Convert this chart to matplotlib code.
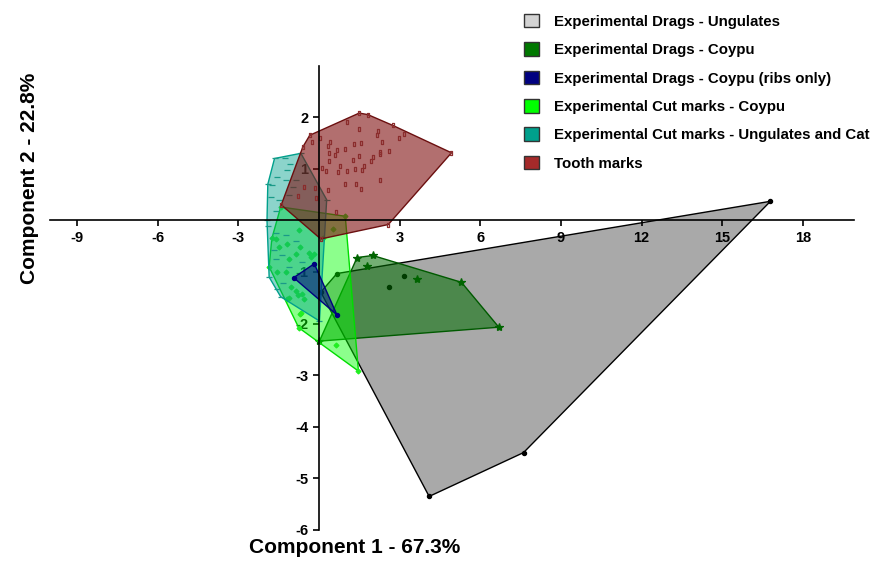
import numpy as np
import matplotlib.pyplot as plt
from matplotlib.patches import Polygon, Patch

plt.rcParams['font.family'] = ['Liberation Sans', 'DejaVu Sans']
plt.rcParams['font.weight'] = 'bold'
plt.rcParams['axes.unicode_minus'] = False

# PCA scores, one pair of arrays per group
drag_ung_x = [0.67, 16.79, 7.61, 4.10, 0.07, 3.16, 2.59]
drag_ung_y = [-1.03, 0.37, -4.50, -5.35, -1.39, -1.07, -1.30]

drag_coy_x = [1.42, 2.00, 5.30, 6.69, 0.02, 1.77, 3.64]
drag_coy_y = [-0.72, -0.68, -1.20, -2.07, -2.34, -0.89, -1.14]

ribs_x = [-0.94, -0.17, 0.67]
ribs_y = [-1.11, -0.84, -1.83]

cut_coy_x = [-1.42, 0.98, 1.47, -0.75, -1.85, -1.75,
             -1.58, -1.17, -1.48, -0.73, 0.14, 0.53, -1.11, -0.86, -0.38, -0.17,
             -1.54, -1.23, -1.04, -0.79, -0.61, -1.11, -0.55, -0.71, 0.63, -0.30,
             -0.67, -0.86, -1.17, -0.70]
cut_coy_y = [0.26, 0.08, -2.92, -2.08, -0.90, -0.35,
             -0.36, -0.45, -0.52, -0.19, -0.34, -0.16, -0.74, -0.65, -0.63, -0.66,
             -1.00, -1.00, -1.29, -1.45, -1.42, -1.50, -1.52, -1.81, -2.42, -0.71,
             -1.80, -1.37, -1.52, -0.52]

cut_ung_x = [-1.65, -0.67, 0.29, 0.02, -1.42, -1.85, -1.93, -1.90,
             -1.26, -1.07, -1.17, -1.54, -1.23, -0.98, -1.73, -1.48, -1.79, -1.11,
             -0.86, -1.60, -1.91, -1.60, -1.23, -1.67, -1.38, -1.11, -1.60, -0.61,
             -1.35, -1.54, -0.86]
cut_ung_y = [1.20, 1.30, 0.40, -1.95, -1.48, -1.10, 0.00, 0.70,
             1.21, 1.10, 0.98, 0.85, 0.78, 0.65, 0.68, 0.39, 0.45, 0.50,
             0.78, 0.19, -0.10, -0.25, -0.29, -0.58, -0.68, -0.90, -0.74, -0.81,
             -1.21, -1.32, -0.39]

tooth_x = [-0.60, -0.34, 1.50, 1.82, 2.75, 4.93, 2.58, 0.07, -1.40,
           1.04, 1.48, 2.21, 2.15, 3.18, 2.96, 0.05, -0.24, 0.32, 0.41, 1.32,
           1.58, 2.34, 0.98, 0.66, 0.38, 0.59, 2.28, 2.60, 1.50, 1.26, 2.03,
           2.29, 1.95, 0.36, 0.79, 1.67, 0.11, 0.26, 0.71, 1.04, 1.33, 1.60,
           2.29, 0.98, 1.38, 1.57, 0.32, 0.63, -0.55, -0.79, -0.14, -0.11]
tooth_y = [1.42, 1.65, 2.08, 2.05, 1.84, 1.31, -0.08, -0.36, 0.30,
           1.90, 1.78, 1.73, 1.65, 1.68, 1.60, 1.60, 1.52, 1.45, 1.52, 1.49,
           1.50, 1.52, 1.39, 1.36, 1.30, 1.27, 1.32, 1.34, 1.24, 1.18, 1.23,
           1.28, 1.16, 1.15, 1.06, 1.06, 1.02, 0.96, 0.94, 0.96, 0.99, 0.97,
           0.78, 0.70, 0.71, 0.61, 0.59, 0.16, 0.65, 0.48, 0.63, 0.44]

labels = ['Experimental Drags - Ungulates', 'Experimental Drags - Coypu',
          'Experimental Drags - Coypu (ribs only)', 'Experimental Cut marks - Coypu',
          'Experimental Cut marks - Ungulates and Cat', 'Tooth marks']


def hull(x, y):
    pts = sorted(set(zip(x, y)))

    def cross(o, a, b):
        return (a[0] - o[0]) * (b[1] - o[1]) - (a[1] - o[1]) * (b[0] - o[0])
    lower, upper = [], []
    for p in pts:
        while len(lower) >= 2 and cross(lower[-2], lower[-1], p) <= 0:
            lower.pop()
        lower.append(p)
    for p in reversed(pts):
        while len(upper) >= 2 and cross(upper[-2], upper[-1], p) <= 0:
            upper.pop()
        upper.append(p)
    return np.array(lower[:-1] + upper[:-1])


fig = plt.figure(figsize=(8.75, 5.67), dpi=100)
ax = fig.add_axes([0.0571, 0.0653, 0.919, 0.819])

rect = [(-0.6, -1), (0.6, -1), (0.6, 1), (-0.6, 1), (-0.6, -1)]

# x, y, fill, alpha, edge, marker, marker colour, marker size, filled marker, zorder
groups = [
    (drag_ung_x, drag_ung_y, '#a9a9a9', 1.0, 'black', 'o', 'black', 3, True, 1),
    (drag_coy_x, drag_coy_y, '#006e00', 0.55, '#005a00', '*', '#006400', 6, True, 2),
    (cut_coy_x, cut_coy_y, '#00ff00', 0.45, '#00dd00', 'D', '#22ee22', 2.5, True, 3),
    (cut_ung_x, cut_ung_y, '#00a08c', 0.45, '#00a08c', '_', '#1a9a88', 4, True, 4),
    (tooth_x, tooth_y, '#7f1010', 0.6, '#6b0f0f', rect, '#8b2d2d', 3, False, 5),
    (ribs_x, ribs_y, '#000080', 0.55, '#000080', 'o', '#000080', 3, True, 6),
]

for gx, gy, fc, al, ec, mk, mc, ms, filled, z in groups:
    h = hull(gx, gy)
    ax.add_patch(Polygon(h, closed=True, facecolor=fc, alpha=al, edgecolor='none', zorder=z))
    ax.add_patch(Polygon(h, closed=True, facecolor='none', edgecolor=ec, lw=1.0, zorder=z))
    ax.plot(gx, gy, ls='none', marker=mk, color=mc, ms=ms, mew=0.9,
            mfc=mc if filled else 'none', zorder=z)

ax.set_xlim(-10, 19.9)
ax.set_ylim(-6, 3)
ax.spines['left'].set_position(('data', 0))
ax.spines['bottom'].set_position(('data', 0))
ax.spines['top'].set_visible(False)
ax.spines['right'].set_visible(False)
ax.spines['left'].set_linewidth(1.2)
ax.spines['bottom'].set_linewidth(1.2)
ax.spines['left'].set_zorder(7)
ax.spines['bottom'].set_zorder(7)
ax.set_xticks([-9, -6, -3, 3, 6, 9, 12, 15, 18])
ax.set_yticks([-6, -5, -4, -3, -2, -1, 1, 2])
ax.tick_params(axis='both', direction='out', length=4, width=1.2, labelsize=10.5)
for t in ax.get_xticklabels() + ax.get_yticklabels():
    t.set_fontweight('bold')

fig.text(0.405, 0.018, 'Component 1 - 67.3%', fontsize=15, fontweight='bold',
         ha='center', va='bottom')
fig.text(0.034, 0.685, 'Component 2 - 22.8%', fontsize=15, fontweight='bold',
         ha='center', va='center', rotation=90)

legend_colors = ['#d3d3d3', '#007800', '#000080', '#00ff00', '#00a08c', '#a52a2a']
handles = [Patch(facecolor=c, edgecolor='#333333', lw=1) for c in legend_colors]
fig.legend(handles, labels, loc='upper left', bbox_to_anchor=(0.583, 0.999),
           frameon=False, prop={'weight': 'bold', 'size': 10.8},
           handlelength=1.0, handleheight=1.0, labelspacing=0.90, handletextpad=1.0)

fig.savefig('out.png', dpi=100)
